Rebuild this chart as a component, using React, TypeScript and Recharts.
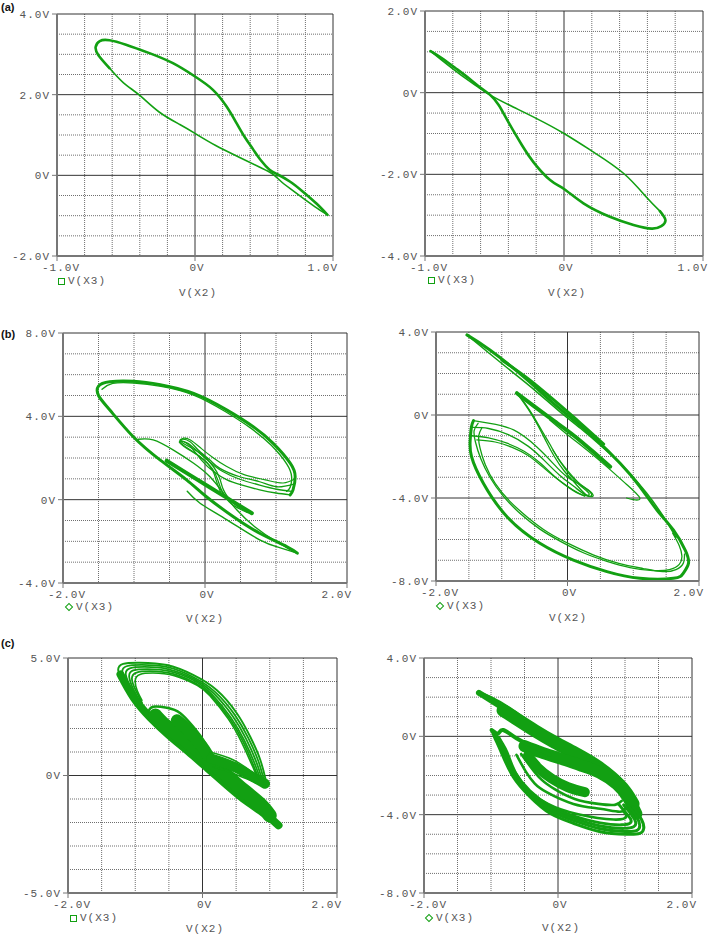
import React from "react";
import { LineChart, Line, XAxis, YAxis, CartesianGrid } from "recharts";

// ---- data: V(X3) against V(X2) ----

// (a) left
const a1Upper = [
  [0.96, -0.98], [0.88, -0.7], [0.78, -0.4], [0.69, -0.16], [0.6, 0.02], [0.54, 0.14], [0.48, 0.36],
  [0.42, 0.65], [0.36, 0.95], [0.3, 1.3], [0.23, 1.7], [0.13, 2.12], [0.0, 2.45], [-0.16, 2.78],
  [-0.33, 3.03], [-0.5, 3.24], [-0.62, 3.35], [-0.69, 3.33], [-0.72, 3.18], [-0.7, 2.98], [-0.62, 2.66],
];
const a1Lower = [
  [-0.62, 2.66], [-0.52, 2.3], [-0.4, 1.98], [-0.26, 1.57], [-0.11, 1.26], [0.0, 1.04], [0.15, 0.74],
  [0.32, 0.45], [0.47, 0.2], [0.56, 0.04], [0.62, -0.14], [0.69, -0.33], [0.78, -0.56], [0.87, -0.78], [0.96, -0.98],
];

// (a) right
const a2Lower = [
  [-0.96, 1.02], [-0.88, 0.85], [-0.78, 0.6], [-0.68, 0.34], [-0.6, 0.12], [-0.53, -0.06], [-0.47, -0.3],
  [-0.42, -0.6], [-0.37, -0.9], [-0.3, -1.3], [-0.22, -1.7], [-0.1, -2.14], [0.0, -2.36], [0.14, -2.71],
  [0.33, -3.04], [0.5, -3.24], [0.63, -3.33], [0.7, -3.27], [0.73, -3.12], [0.69, -2.9],
];
const a2Upper = [
  [0.69, -2.9], [0.59, -2.55], [0.43, -1.98], [0.21, -1.45], [0.0, -1.0], [-0.2, -0.63], [-0.39, -0.31],
  [-0.53, -0.06], [-0.62, 0.14], [-0.7, 0.33], [-0.79, 0.56], [-0.88, 0.8], [-0.96, 1.02],
];

// (b) left
const b1Outer = [
  [1.3, -2.57], [1.15, -2.25], [0.77, -1.61], [0.4, -0.82], [0.02, 0.14], [-0.26, 0.95], [-0.63, 1.9],
  [-1.01, 3.02], [-1.34, 4.3], [-1.5, 5.0], [-1.5, 5.45], [-1.34, 5.66], [-1.01, 5.68], [-0.63, 5.52],
  [-0.16, 5.1], [0.31, 4.3], [0.68, 3.5], [0.96, 2.7], [1.2, 1.75], [1.27, 1.1], [1.24, 0.47], [1.2, 0.23],
];
const b1Outer2 = [
  [-1.45, 5.3], [-1.3, 5.58], [-1.0, 5.6], [-0.62, 5.44], [-0.16, 5.02], [0.29, 4.22], [0.65, 3.42],
  [0.93, 2.62], [1.15, 1.72], [1.22, 1.1], [1.2, 0.6], [1.15, 0.4],
];
const b1LoopA = [
  [1.25, 0.75], [1.01, 0.62], [0.77, 0.86], [0.49, 1.1], [0.21, 1.5], [0.07, 1.9], [-0.1, 2.4], [-0.21, 2.78],
  [-0.33, 2.9], [-0.31, 2.71], [-0.07, 2.23], [0.12, 1.58], [0.21, 1.0], [0.26, 0.47], [0.4, -0.17], [0.63, -0.65],
];
const b1LoopB = [
  [1.22, 0.4], [1.01, 0.5], [0.77, 0.7], [0.49, 0.98], [0.25, 1.35], [0.07, 1.8], [-0.1, 2.3], [-0.24, 2.7],
  [-0.35, 2.82], [-0.3, 2.6], [-0.08, 2.1], [0.1, 1.5], [0.18, 0.95], [0.24, 0.4], [0.37, -0.2], [0.6, -0.62],
];
const b1LoopC = [
  [1.2, 0.23], [1.0, 0.32], [0.77, 0.47], [0.5, 0.72], [0.31, 0.95], [0.12, 1.35], [-0.05, 1.9], [-0.18, 2.45],
  [-0.3, 2.78], [-0.36, 2.75], [-0.25, 2.45], [-0.05, 2.0], [0.1, 1.45], [0.16, 0.9], [0.22, 0.35],
];
const b1LoopD = [
  [1.27, 1.0], [1.1, 0.8], [0.85, 0.95], [0.55, 1.2], [0.3, 1.6], [0.12, 2.0], [-0.05, 2.45], [-0.2, 2.85],
  [-0.3, 2.95], [-0.34, 2.85],
];
const b1Band = [[-0.54, 1.87], [-0.24, 1.24], [0.06, 0.61], [0.36, -0.02], [0.66, -0.65]];
const b1Thin = [
  [-0.94, 2.9], [-0.73, 2.87], [-0.45, 2.39], [-0.16, 1.75], [0.07, 1.1], [0.26, 0.31], [0.45, -0.5],
  [0.7, -1.3], [1.0, -2.0], [1.3, -2.57],
];
const b1Under = [[1.3, -2.57], [1.05, -2.3], [0.77, -1.93], [0.31, -0.97], [-0.07, -0.17], [-0.25, 0.4]];

// (b) right
const b2Main = [
  [-1.53, 3.86], [-1.18, 3.13], [-0.67, 1.85], [-0.27, 0.72], [0.09, -0.24], [0.44, -1.2], [0.8, -2.33],
  [1.1, -3.45], [1.36, -4.58], [1.61, -5.54], [1.79, -6.51], [1.84, -7.15], [1.76, -7.63], [1.61, -7.87],
  [1.1, -7.87], [0.6, -7.55], [0.09, -6.99], [-0.42, -6.18], [-0.92, -4.9], [-1.28, -3.29], [-1.46, -2.0],
  [-1.48, -1.2], [-1.46, -0.56], [-1.43, -0.27],
];
const b2Upper2 = [
  [-1.53, 3.86], [-1.2, 3.0], [-0.85, 2.1], [-0.5, 1.2], [-0.15, 0.25], [0.2, -0.65], [0.55, -1.6],
  [0.9, -2.65], [1.2, -3.75], [1.45, -4.85], [1.65, -5.9],
];
const b2Thick = [[-1.0, 2.65], [-0.6, 1.75], [-0.2, 0.7], [0.2, -0.4], [0.55, -1.4]];
const b2Diag = [
  [-0.27, -0.24], [0.0, -0.95], [0.3, -1.7], [0.6, -2.5], [0.9, -3.35], [1.1, -4.0], [1.0, -4.08], [0.9, -4.0],
];
const b2Band = [[-0.77, 1.05], [-0.5, 0.4], [-0.2, -0.3], [0.1, -1.0], [0.4, -1.8], [0.65, -2.49]];
const b2Lobe1 = [
  [-1.43, -0.27], [-1.18, -0.4], [-0.82, -0.72], [-0.47, -1.53], [-0.22, -2.33], [-0.01, -2.97], [0.24, -3.45],
  [0.39, -3.86], [0.29, -3.86], [0.12, -3.3], [-0.05, -2.7], [-0.2, -2.0], [-0.32, -1.3], [-0.45, -0.5],
  [-0.6, 0.3], [-0.77, 1.05],
];
const b2Lobe2 = [
  [-1.45, -0.6], [-1.2, -0.65], [-0.9, -0.95], [-0.6, -1.5], [-0.35, -2.2], [-0.12, -2.9], [0.1, -3.45],
  [0.3, -3.9], [0.36, -3.78], [0.2, -3.35], [0.02, -2.75], [-0.14, -2.1], [-0.27, -1.4], [-0.4, -0.7],
  [-0.55, 0.1], [-0.7, 0.8],
];
const b2Lobe3 = [
  [-1.46, -1.0], [-1.2, -1.1], [-0.92, -1.36], [-0.66, -1.75], [-0.42, -2.3], [-0.2, -2.95], [0.02, -3.5],
  [0.22, -3.85], [0.33, -3.8], [0.2, -3.42], [0.04, -2.9], [-0.1, -2.3], [-0.22, -1.7],
];
const b2Lobe4 = [
  [-1.38, -1.2], [-1.1, -1.3], [-0.85, -1.55], [-0.6, -1.95], [-0.38, -2.5], [-0.15, -3.1], [0.08, -3.6],
  [0.26, -3.92],
];
const b2Ellipse1 = [
  [-1.36, -0.4], [-1.42, -0.75], [-1.4, -1.3], [-1.32, -2.1], [-1.18, -3.0], [-0.98, -3.9], [-0.72, -4.75],
  [-0.42, -5.5], [-0.1, -6.1], [0.25, -6.65], [0.6, -7.05], [0.95, -7.35], [1.3, -7.5], [1.55, -7.45],
  [1.7, -7.2], [1.74, -6.8], [1.7, -6.3], [1.6, -5.7],
];
const b2Ellipse2 = [
  [-1.3, -0.6], [-1.35, -1.0], [-1.33, -1.6], [-1.25, -2.4], [-1.1, -3.3], [-0.88, -4.15], [-0.6, -4.95],
  [-0.3, -5.65], [0.05, -6.25], [0.4, -6.75], [0.78, -7.15], [1.15, -7.4], [1.45, -7.55], [1.65, -7.45],
  [1.76, -7.15], [1.78, -6.7],
];

// (c) left
const c1Arch1 = [
  [-0.95, 3.0], [-1.12, 3.75], [-1.25, 4.42], [-1.18, 4.75], [-0.93, 4.8], [-0.53, 4.7], [-0.14, 4.28],
  [0.21, 3.64], [0.51, 2.65], [0.71, 1.65], [0.86, 0.66], [0.94, -0.19], [0.96, -0.42],
];
const c1Arch2 = [
  [-0.93, 3.0], [-1.08, 3.7], [-1.19, 4.35], [-1.13, 4.65], [-0.9, 4.71], [-0.52, 4.61], [-0.14, 4.19],
  [0.19, 3.55], [0.48, 2.58], [0.68, 1.6], [0.83, 0.62], [0.91, -0.15], [0.94, -0.35],
];
const c1Arch3 = [
  [-0.92, 3.0], [-1.05, 3.65], [-1.14, 4.28], [-1.08, 4.56], [-0.86, 4.62], [-0.5, 4.52], [-0.13, 4.11],
  [0.17, 3.48], [0.45, 2.52], [0.65, 1.55], [0.8, 0.58], [0.88, -0.1], [0.92, -0.3],
];
const c1Arch4 = [
  [-0.91, 3.05], [-1.02, 3.62], [-1.09, 4.2], [-1.03, 4.47], [-0.82, 4.53], [-0.48, 4.43], [-0.12, 4.03],
  [0.15, 3.42], [0.42, 2.47], [0.62, 1.5], [0.77, 0.55], [0.85, -0.05], [0.9, -0.25],
];
const c1Arch5 = [
  [-0.9, 3.1], [-0.99, 3.6], [-1.05, 4.12], [-0.98, 4.38], [-0.78, 4.44], [-0.45, 4.33], [-0.1, 3.92],
  [0.13, 3.4], [0.4, 2.44], [0.6, 1.46], [0.74, 0.55], [0.82, 0.0], [0.87, -0.2],
];
const c1Arch6 = [
  [-0.9, 3.2], [-0.97, 3.6], [-1.0, 4.05], [-0.93, 4.3], [-0.74, 4.36], [-0.42, 4.25], [-0.08, 3.84],
  [0.11, 3.4], [0.38, 2.42], [0.58, 1.42], [0.72, 0.55], [0.79, 0.1], [0.84, -0.15],
];
const c1Diag1 = [
  [-1.22, 4.3], [-1.02, 3.3], [-0.77, 2.45], [-0.51, 1.75], [-0.21, 1.02], [0.08, 0.3], [0.37, -0.42],
  [0.66, -1.1], [0.95, -1.68], [1.13, -2.12],
];
const c1Diag2 = [
  [-0.7, 2.55], [-0.55, 2.12], [-0.38, 1.78], [-0.2, 1.38], [0.0, 0.92], [0.2, 0.42], [0.4, -0.1],
  [0.62, -0.65], [0.85, -1.2], [1.0, -1.7],
];
const c1Fill = [[-0.38, 2.35], [-0.26, 2.05], [-0.13, 1.65], [-0.01, 1.25], [0.08, 0.85]];
const c1Lobe = [
  [-0.8, 2.75], [-0.73, 2.93], [-0.53, 2.88], [-0.33, 2.65], [-0.14, 2.08], [0.01, 1.51], [0.11, 0.94],
];
const c1RightBand = [[0.13, 0.72], [0.46, 0.38], [0.76, -0.08], [0.93, -0.35]];
const c1RightEdge1 = [[0.11, 1.0], [0.46, 0.66], [0.76, 0.09], [0.9, -0.27]];
const c1RightEdge2 = [[0.16, 0.37], [0.46, 0.09], [0.76, -0.26], [0.95, -0.45]];

// (c) right
const c2Edge = [
  [-1.2, 2.28], [-1.01, 2.02], [-0.67, 1.34], [-0.27, 0.32], [0.13, -0.53], [0.48, -1.21], [0.73, -1.89],
  [0.93, -2.74], [1.12, -3.6], [1.25, -4.27], [1.28, -4.7],
];
const c2Tip = [[-1.18, 2.22], [-1.05, 1.95], [-0.9, 1.62], [-0.76, 1.28]];
const c2Band = [
  [-0.82, 1.32], [-0.67, 1.0], [-0.35, 0.3], [-0.05, -0.3], [0.25, -0.85], [0.55, -1.45],
  [0.8, -2.1], [1.0, -2.8], [1.12, -3.45],
];
const c2Band2 = [
  [-0.5, -0.5], [-0.25, -0.82], [0.05, -1.15], [0.35, -1.5], [0.62, -1.85], [0.88, -2.45], [1.05, -3.15], [1.17, -3.95],
];
const c2Notch = [[-0.99, 0.32], [-0.89, 0.15], [-0.82, 0.32], [-0.62, -0.1], [-0.42, -0.44], [-0.12, -0.95]];
const c2Core = [[-0.45, -1.0], [-0.3, -1.6], [-0.1, -2.15], [0.15, -2.6], [0.4, -2.85]];
const c2Ring1 = [
  [-0.99, 0.32], [-0.94, -0.1], [-0.84, -0.87], [-0.67, -2.06], [-0.42, -3.08], [-0.12, -3.93], [0.23, -4.44],
  [0.63, -4.87], [1.02, -5.0], [1.22, -4.96], [1.28, -4.7], [1.25, -4.27], [1.12, -3.6],
];
const c2Ring2 = [
  [-0.97, 0.25], [-0.92, -0.15], [-0.82, -0.9], [-0.66, -2.0], [-0.42, -2.98], [-0.12, -3.8], [0.23, -4.3],
  [0.63, -4.72], [1.0, -4.86], [1.18, -4.8], [1.22, -4.55], [1.18, -4.15], [1.05, -3.55],
];
const c2Ring3 = [
  [-0.95, 0.15], [-0.9, -0.2], [-0.8, -0.9], [-0.65, -1.92], [-0.42, -2.88], [-0.12, -3.68], [0.23, -4.18],
  [0.63, -4.58], [0.98, -4.7], [1.13, -4.62], [1.16, -4.4], [1.1, -4.0], [0.98, -3.5],
];
const c2Ring4 = [
  [-0.92, 0.05], [-0.87, -0.25], [-0.78, -0.88], [-0.64, -1.85], [-0.42, -2.78], [-0.12, -3.56], [0.23, -4.06],
  [0.63, -4.42], [0.95, -4.52], [1.08, -4.42], [1.08, -4.2], [1.0, -3.85], [0.9, -3.45],
];
const c2Ring5 = [
  [-0.88, -0.05], [-0.83, -0.35], [-0.76, -0.8], [-0.68, -1.5], [-0.5, -2.55], [-0.15, -3.45], [0.3, -3.98],
  [0.83, -4.25], [1.02, -4.1], [0.98, -3.85],
];
const c2Ring6 = [
  [-0.62, -0.95], [-0.48, -1.8], [-0.35, -2.4], [-0.17, -2.85], [0.23, -3.45], [0.63, -3.7], [0.92, -3.85], [1.0, -3.7],
];
const c2Ring7 = [
  [-0.55, -0.9], [-0.4, -1.6], [-0.25, -2.2], [-0.05, -2.7], [0.25, -3.2], [0.6, -3.45], [0.85, -3.5], [0.95, -3.3],
];

// tick labels
const ticksA1X = [-1, 0, 1];
const ticksA1Y = [-2, 0, 2, 4];
const ticksA2Y = [-4, -2, 0, 2];
const ticksBX = [-2, 0, 2];
const ticksB1Y = [-4, 0, 4, 8];
const ticksB2Y = [-8, -4, 0, 4];
const ticksC1Y = [-5, 0, 5];

const GREEN = "#12a012";
const MONO = "'Liberation Mono', 'DejaVu Sans Mono', monospace";

type Trace = { d: number[][]; w: number };
type PanelProps = {
  l: number; r: number; t: number; b: number;
  xDomain: [number, number]; yDomain: [number, number];
  xTicks: number[]; yTicks: number[];
  xStep: number; yStep: number;
  traces: Trace[];
};

const fmt = (v: number) => (v === 0 ? "0V" : `${v.toFixed(1)}V`);
const tickStyle = { fontFamily: MONO, fontSize: 11, fill: "#555", letterSpacing: 1 };

function steps(min: number, max: number, step: number) {
  const out: number[] = [];
  const n = Math.round((max - min) / step);
  for (let i = 1; i < n; i++) out.push(+(min + i * step).toFixed(4));
  return out;
}

// PSpice pushes the end labels inwards: first one starts left of the axis, last one ends near the frame
function XTick(props: any) {
  const { x, y, payload, lo, hi } = props;
  const v = payload.value;
  const anchor = v === lo ? "start" : v === hi ? "end" : "middle";
  const tx = v === lo ? x - 15 : v === hi ? x + 5 : x + 2;
  return (
    <text x={tx} y={y} dy="0.71em" textAnchor={anchor} {...tickStyle}>
      {fmt(v)}
    </text>
  );
}

function Panel({ l, r, t, b, xDomain, yDomain, xTicks, yTicks, xStep, yStep, traces }: PanelProps) {
  const yw = 62;
  const rm = 12;
  const w = r - l;
  const h = b - t;
  const minorX = steps(xDomain[0], xDomain[1], xStep).filter((v) => !xTicks.includes(v));
  const minorY = steps(yDomain[0], yDomain[1], yStep).filter((v) => !yTicks.includes(v));
  const majorX = xTicks.filter((v) => v !== xDomain[0]);
  const majorY = yTicks.filter((v) => v !== yDomain[0]).concat(yTicks.includes(yDomain[1]) ? [] : [yDomain[1]]);
  return (
    <div style={{ position: "absolute", left: l - yw, top: t - 10 }}>
      <LineChart width={yw + w + rm} height={h + 10 + 22} margin={{ top: 10, right: rm, bottom: 0, left: 0 }}>
        <CartesianGrid verticalValues={minorX} horizontalValues={minorY} stroke="#6f6f6f" strokeDasharray="1 1" />
        <CartesianGrid verticalValues={majorX} horizontalValues={majorY} stroke="#333" />
        <XAxis
          type="number"
          dataKey="x"
          domain={xDomain}
          ticks={xTicks}
          interval={0}
          allowDataOverflow
          tick={(p: any) => <XTick {...p} lo={xDomain[0]} hi={xDomain[1]} />}
          tickSize={5}
          height={22}
          axisLine={{ stroke: "#777", strokeWidth: 2 }}
          tickLine={{ stroke: "#777" }}
        />
        <YAxis
          type="number"
          domain={yDomain}
          ticks={yTicks}
          interval={0}
          allowDataOverflow
          tickFormatter={fmt}
          tick={tickStyle}
          tickSize={5}
          width={yw}
          axisLine={{ stroke: "#777", strokeWidth: 2 }}
          tickLine={{ stroke: "#777" }}
        />
        {traces.map((tr, i) => (
          <Line
            key={i}
            data={tr.d.map(([x, y]) => ({ x, y }))}
            dataKey="y"
            type="natural"
            stroke={GREEN}
            strokeWidth={tr.w}
            strokeLinejoin="round"
            strokeLinecap="round"
            dot={false}
            activeDot={false}
            isAnimationActive={false}
          />
        ))}
      </LineChart>
    </div>
  );
}

const txt: React.CSSProperties = {
  position: "absolute",
  fontFamily: MONO,
  fontSize: 11,
  color: "#555",
  letterSpacing: 1,
  lineHeight: "12px",
  whiteSpace: "nowrap",
};

function Legend({ x, y, diamond }: { x: number; y: number; diamond?: boolean }) {
  return (
    <>
      <div
        style={{
          position: "absolute",
          left: x,
          top: y - 3,
          width: diamond ? 4 : 5,
          height: diamond ? 4 : 5,
          border: `1.2px solid ${GREEN}`,
          transform: diamond ? "rotate(45deg)" : undefined,
        }}
      />
      <div style={{ ...txt, left: x + 10, top: y - 6 }}>V(X3)</div>
    </>
  );
}

function AxisName({ cx, cy }: { cx: number; cy: number }) {
  return <div style={{ ...txt, left: cx - 20, top: cy - 6, width: 40, textAlign: "center" }}>V(X2)</div>;
}

const tag: React.CSSProperties = {
  position: "absolute",
  fontFamily: "'Liberation Sans', Arial, sans-serif",
  fontWeight: "bold",
  fontSize: 11,
  color: "#111",
};

export default function App() {
  return (
    <div style={{ position: "absolute", left: 0, top: 0, width: 709, height: 935, background: "#fff", overflow: "hidden" }}>
      <div style={{ ...tag, left: 1, top: 1 }}>(a)</div>
      <div style={{ ...tag, left: 1, top: 328 }}>(b)</div>
      <div style={{ ...tag, left: 1, top: 637 }}>(c)</div>

      <Panel l={57} r={333} t={14} b={256} xDomain={[-1, 1]} yDomain={[-2, 4]} xTicks={ticksA1X} yTicks={ticksA1Y}
        xStep={0.2} yStep={0.5} traces={[{ d: a1Upper, w: 2.6 }, { d: a1Lower, w: 1.6 }]} />
      <Legend x={58} y={281} />
      <AxisName cx={198} cy={293} />

      <Panel l={425} r={703} t={11} b={256} xDomain={[-1, 1]} yDomain={[-4, 2]} xTicks={ticksA1X} yTicks={ticksA2Y}
        xStep={0.2} yStep={0.5} traces={[{ d: a2Lower, w: 2.6 }, { d: a2Upper, w: 1.6 }]} />
      <Legend x={428} y={280} />
      <AxisName cx={567} cy={293} />

      <Panel l={63} r={347} t={333} b={583} xDomain={[-2, 2]} yDomain={[-4, 8]} xTicks={ticksBX} yTicks={ticksB1Y}
        xStep={0.5} yStep={1}
        traces={[
          { d: b1Under, w: 1.4 }, { d: b1Thin, w: 1.4 }, { d: b1Outer, w: 3 }, { d: b1Outer2, w: 1.4 },
          { d: b1LoopA, w: 1.3 }, { d: b1LoopB, w: 1.3 }, { d: b1LoopC, w: 1.3 }, { d: b1LoopD, w: 1.2 },
          { d: b1Band, w: 4 },
        ]} />
      <Legend x={66} y={607} diamond />
      <AxisName cx={205} cy={619} />

      <Panel l={436} r={699} t={332} b={581} xDomain={[-2, 2]} yDomain={[-8, 4]} xTicks={ticksBX} yTicks={ticksB2Y}
        xStep={0.5} yStep={1}
        traces={[
          { d: b2Main, w: 3 }, { d: b2Upper2, w: 1.5 }, { d: b2Thick, w: 3 }, { d: b2Diag, w: 1.3 },
          { d: b2Ellipse1, w: 1.3 }, { d: b2Ellipse2, w: 1.3 }, { d: b2Lobe1, w: 1.3 }, { d: b2Lobe2, w: 1.3 },
          { d: b2Lobe3, w: 1.3 }, { d: b2Lobe4, w: 1.2 }, { d: b2Band, w: 4 },
        ]} />
      <Legend x={437} y={606} diamond />
      <AxisName cx={568} cy={618} />

      <Panel l={68} r={337} t={658} b={893} xDomain={[-2, 2]} yDomain={[-5, 5]} xTicks={ticksBX} yTicks={ticksC1Y}
        xStep={0.5} yStep={1}
        traces={[
          { d: c1Arch1, w: 1.9 }, { d: c1Arch2, w: 1.8 }, { d: c1Arch3, w: 1.8 }, { d: c1Arch4, w: 1.8 },
          { d: c1Arch5, w: 1.8 }, { d: c1Arch6, w: 1.6 }, { d: c1Diag1, w: 8 }, { d: c1Diag2, w: 14 },
          { d: c1Fill, w: 12 }, { d: c1Lobe, w: 2.5 }, { d: c1RightBand, w: 10 }, { d: c1RightEdge1, w: 1.6 },
          { d: c1RightEdge2, w: 1.6 },
        ]} />
      <Legend x={70} y={918} />
      <AxisName cx={205} cy={929} />

      <Panel l={424} r={692} t={658} b={893} xDomain={[-2, 2]} yDomain={[-8, 4]} xTicks={ticksBX} yTicks={ticksB2Y}
        xStep={0.5} yStep={1}
        traces={[
          { d: c2Edge, w: 2 }, { d: c2Tip, w: 6 }, { d: c2Band, w: 13 }, { d: c2Band2, w: 12 }, { d: c2Notch, w: 4 },
          { d: c2Core, w: 10 }, { d: c2Ring1, w: 3 }, { d: c2Ring2, w: 3 }, { d: c2Ring3, w: 3 }, { d: c2Ring4, w: 3 },
          { d: c2Ring5, w: 2.6 }, { d: c2Ring6, w: 2.6 }, { d: c2Ring7, w: 2.6 },
        ]} />
      <Legend x={426} y={918} diamond />
      <AxisName cx={561} cy={928} />
    </div>
  );
}
